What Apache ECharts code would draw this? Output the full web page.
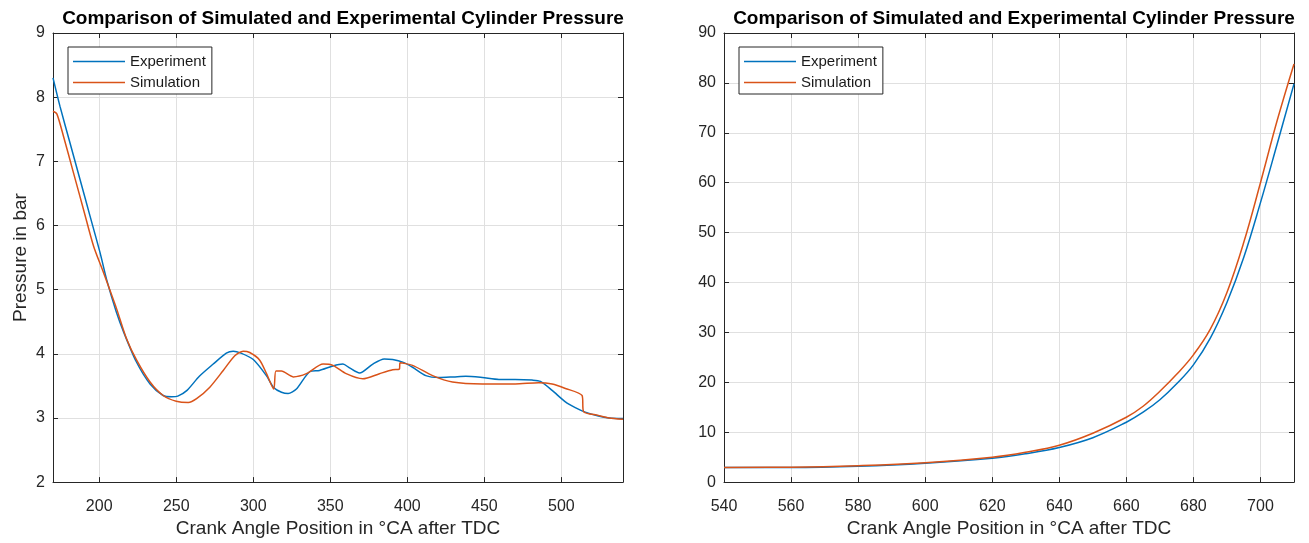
<!DOCTYPE html>
<html><head><meta charset="utf-8">
<script src="https://cdn.jsdelivr.net/npm/echarts@6/dist/echarts.min.js"></script>
<style>html,body{margin:0;padding:0;background:#fff}#c{width:1309px;height:543px}</style>
</head><body><div id="c"></div>
<script>
const titleText = 'Comparison of Simulated and Experimental Cylinder Pressure';
const xName = 'Crank Angle Position in °CA after TDC';
const yName = 'Pressure in bar';
const seriesNames = ['Experiment', 'Simulation'];
const leftXTicks = [200, 250, 300, 350, 400, 450, 500];

// Left panel: Experiment
const expL_x = [170,174.5,181,187.5,194,200.5,205,211,216,224,233,241.5,247,251,257,265,274,282.5,287,292,300,308.5,313.4,318.3,322.6,328,336.6,343,351.7,358.2,362.5,369,377.6,385,390.5,397,403.4,412,420.7,430,438,448.7,459.5,470,481,486.4,494,502.6,509,515.5,524,531,540];
const expL_y = [8.30,7.86,7.29,6.72,6.15,5.58,5.14,4.66,4.33,3.88,3.53,3.35,3.33,3.34,3.43,3.65,3.84,4.01,4.04,4.01,3.91,3.66,3.47,3.40,3.38,3.45,3.72,3.74,3.81,3.84,3.78,3.70,3.84,3.92,3.91,3.87,3.79,3.66,3.63,3.64,3.65,3.63,3.60,3.60,3.59,3.57,3.43,3.25,3.16,3.09,3.03,3.00,2.99];
// Left panel: Simulation
const simL_x = [170,172.5,176.8,183.3,189.8,196.3,202.7,211.3,217.8,224.3,233,241.5,250,257.8,263.2,271.8,280.5,288,293.4,297.7,304.2,308.6,313.3,314.7,318.3,325.9,334.5,345.3,351.7,360.3,371.1,381.9,390.5,394.8,395.3,403.4,416.4,429.3,448.7,470,485.3,494,502.6,513.4,514.4,524,531,540];
const simL_y = [7.78,7.74,7.39,6.82,6.25,5.68,5.27,4.70,4.23,3.90,3.56,3.35,3.26,3.24,3.30,3.48,3.74,3.97,4.04,4.02,3.90,3.69,3.45,3.73,3.73,3.64,3.69,3.84,3.82,3.69,3.61,3.69,3.75,3.76,3.86,3.82,3.66,3.56,3.53,3.53,3.55,3.53,3.46,3.35,3.10,3.04,3.00,2.98];

// Right panel: Experiment
const expR_x = [540,560,580,600,620,630,640,650,660,665,670,675,680,685,690,695,700,705,710];
const expR_y = [2.95,2.95,3.2,3.8,4.8,5.7,6.95,8.9,12.0,14.0,16.5,19.7,23.5,28.8,36.0,45.0,56.0,67.8,79.8];
// Right panel: Simulation
const simR_x = [540,560,580,600,620,630,640,650,660,665,670,675,680,685,690,695,700,705,710];
const simR_y = [2.95,3.0,3.3,3.9,5.0,6.0,7.4,9.8,13.0,15.2,18.2,21.6,25.5,30.6,38.0,48.0,60.0,72.5,83.8];

const zip = (xs, ys) => xs.map((x, i) => [x, ys[i]]);
const FONT = '"Liberation Sans", Arial, Helvetica, sans-serif';
const AX = '#262626';
const GRIDC = '#e0e0e0';
const BLUE = '#0072BD', ORANGE = '#D95319';

function xAxisCfg(gridIndex, pos, opts) {
  const main = pos === 'bottom';
  return Object.assign({
    type: 'value', gridIndex, position: pos,
    name: main ? xName : '', nameLocation: 'middle', nameGap: 33,
    nameTextStyle: { fontSize: 19, color: AX, fontFamily: FONT },
    axisLine: { show: true, onZero: false, lineStyle: { color: AX, width: 1 } },
    axisTick: { show: true, inside: true, length: 5, lineStyle: { color: AX } },
    axisLabel: { show: main, fontSize: 16, color: AX, fontFamily: FONT, margin: 16, showMaxLabel: false },
    splitLine: { show: main, lineStyle: { color: GRIDC, width: 1 } }
  }, opts);
}
function yAxisCfg(gridIndex, pos, withName, opts) {
  const main = pos === 'left';
  return Object.assign({
    type: 'value', gridIndex, position: pos,
    name: (main && withName) ? yName : '', nameLocation: 'middle', nameGap: 23,
    nameTextStyle: { fontSize: 19, color: AX, fontFamily: FONT },
    axisLine: { show: true, onZero: false, lineStyle: { color: AX, width: 1 } },
    axisTick: { show: true, inside: true, length: 5, lineStyle: { color: AX } },
    axisLabel: { show: main, fontSize: 16, color: AX, fontFamily: FONT, margin: 8 },
    splitLine: { show: main, lineStyle: { color: GRIDC, width: 1 } }
  }, opts);
}
function legendCfg(left) {
  return {
    left, top: 47, orient: 'vertical', data: seriesNames, selectedMode: false,
    icon: 'rect', itemWidth: 52, itemHeight: 1.5, itemGap: 4, padding: [6, 6, 3, 5],
    borderColor: AX, borderWidth: 1, backgroundColor: '#fff', borderRadius: 0,
    textStyle: { fontSize: 15, color: '#1a1a1a', fontFamily: FONT, lineHeight: 17 }
  };
}

const leftX = { min: 170, max: 540 };
const leftXTick = { show: true, inside: true, length: 5, lineStyle: { color: AX }, customValues: leftXTicks };

const option = {
  animation: false,
  backgroundColor: '#fff',
  title: [
    { text: titleText, left: 338, top: 4, textAlign: 'center', textStyle: { fontSize: 19, fontWeight: 'bold', color: '#000', fontFamily: FONT } },
    { text: titleText, left: 1009, top: 4, textAlign: 'center', textStyle: { fontSize: 19, fontWeight: 'bold', color: '#000', fontFamily: FONT } }
  ],
  legend: [legendCfg(68), legendCfg(739)],
  grid: [
    { left: 53, top: 33, width: 570, height: 450, show: false },
    { left: 724, top: 33, width: 570, height: 450, show: false }
  ],
  xAxis: [
    xAxisCfg(0, 'bottom', Object.assign({}, leftX, { axisTick: leftXTick, axisLabel: { show: true, fontSize: 16, color: AX, fontFamily: FONT, margin: 16, customValues: leftXTicks } })),
    xAxisCfg(0, 'top', Object.assign({}, leftX, { axisTick: leftXTick })),
    xAxisCfg(1, 'bottom', { min: 540, max: 710, interval: 20 }),
    xAxisCfg(1, 'top', { min: 540, max: 710, interval: 20 })
  ],
  yAxis: [
    yAxisCfg(0, 'left', true, { min: 2, max: 9, interval: 1 }),
    yAxisCfg(0, 'right', false, { min: 2, max: 9, interval: 1 }),
    yAxisCfg(1, 'left', false, { min: 0, max: 90, interval: 10 }),
    yAxisCfg(1, 'right', false, { min: 0, max: 90, interval: 10 })
  ],
  series: [
    { name: 'Experiment', type: 'line', xAxisIndex: 0, yAxisIndex: 0, data: zip(expL_x, expL_y), symbol: 'none', smooth: 0.25, lineStyle: { color: BLUE, width: 1.5 }, itemStyle: { color: BLUE } },
    { name: 'Simulation', type: 'line', xAxisIndex: 0, yAxisIndex: 0, data: zip(simL_x, simL_y), symbol: 'none', smooth: 0.25, lineStyle: { color: ORANGE, width: 1.5 }, itemStyle: { color: ORANGE } },
    { name: 'Experiment', type: 'line', xAxisIndex: 2, yAxisIndex: 2, data: zip(expR_x, expR_y), symbol: 'none', smooth: 0.4, lineStyle: { color: BLUE, width: 1.5 }, itemStyle: { color: BLUE } },
    { name: 'Simulation', type: 'line', xAxisIndex: 2, yAxisIndex: 2, data: zip(simR_x, simR_y), symbol: 'none', smooth: 0.4, lineStyle: { color: ORANGE, width: 1.5 }, itemStyle: { color: ORANGE } }
  ]
};
const chart = echarts.init(document.getElementById('c'), null, { renderer: 'canvas' });
chart.setOption(option);
</script></body></html>
